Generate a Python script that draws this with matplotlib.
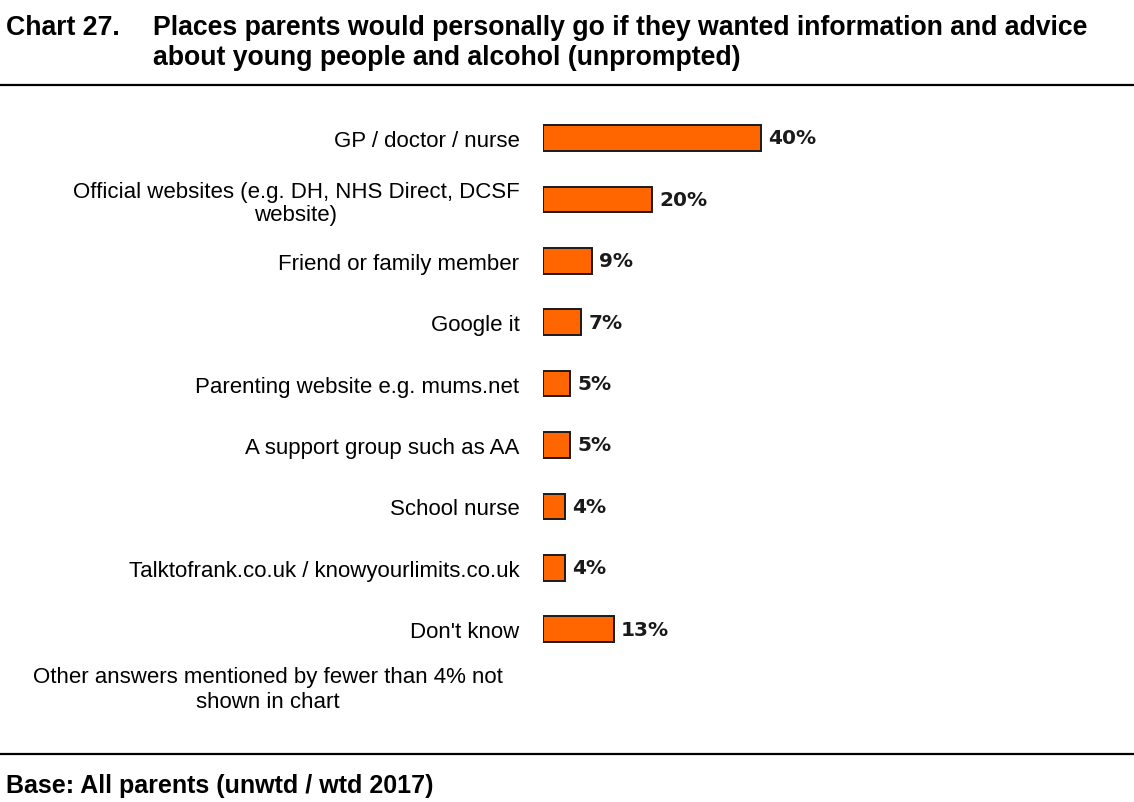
import matplotlib
matplotlib.use("Agg")
import matplotlib.pyplot as plt
from matplotlib.lines import Line2D

# survey results (% of parents)
places = [
    "GP / doctor / nurse",
    "Official websites (e.g. DH, NHS Direct, DCSF\nwebsite)",
    "Friend or family member",
    "Google it",
    "Parenting website e.g. mums.net",
    "A support group such as AA",
    "School nurse",
    "Talktofrank.co.uk / knowyourlimits.co.uk",
    "Don't know",
]
pct = [40, 20, 9, 7, 5, 5, 4, 4, 13]
note = "Other answers mentioned by fewer than 4% not\nshown in chart"
title_no = "Chart 27."
title_lines = ["Places parents would personally go if they wanted information and advice",
               "about young people and alcohol (unprompted)"]
base = "Base: All parents (unwtd / wtd 2017)"

W, H = 1134, 803
fig = plt.figure(figsize=(W / 100, H / 100), dpi=100)

# bar rows sit 61.4 px apart, first one centred at y=139
step = 61.4
y0 = 139
ax = fig.add_axes([543 / W, 1 - (y0 + 9.5 * step) / H, 545 / W, 10 * step / H])
ypos = list(range(len(places)))
ax.barh(ypos, pct, height=0.42, color="#FF6600", edgecolor="#1a1a1a", linewidth=1.4)
for y, v in zip(ypos, pct):
    ax.text(v + 1.3, y, f"{v}%", va="center", ha="left", fontsize=14.5,
            fontweight="bold", family="DejaVu Sans", color="#1a1a1a")

ax.set_xlim(0, 100)
ax.set_ylim(9.5, -0.5)
ax.set_yticks(ypos)
ax.set_yticklabels(places, family="Liberation Sans", fontsize=16, multialignment="center",
                   linespacing=1.15)
ax.tick_params(axis="y", length=0, pad=17)
ax.set_xticks([])
for s in ax.spines.values():
    s.set_visible(False)

fig.text(268 / W, 1 - 690 / H, note, ha="center", va="center", family="Liberation Sans",
         fontsize=16, linespacing=1.3)

# heading and footer
fig.text(6 / W, 1 - 35 / H, title_no, ha="left", va="baseline", family="Liberation Sans",
         fontsize=19.2, fontweight="bold")
for k, line in enumerate(title_lines):
    fig.text(153 / W, 1 - (35 + 30 * k) / H, line, ha="left", va="baseline",
             family="Liberation Sans", fontsize=19.2, fontweight="bold")
fig.text(6 / W, 1 - 786 / H, base, ha="left", va="center", family="Liberation Sans",
         fontsize=18, fontweight="bold")

for yl in (86, 755):
    fig.add_artist(Line2D([0, 1], [1 - yl / H] * 2, color="black", linewidth=1.6,
                          transform=fig.transFigure))

fig.savefig("out.png", dpi=100, facecolor="white")
